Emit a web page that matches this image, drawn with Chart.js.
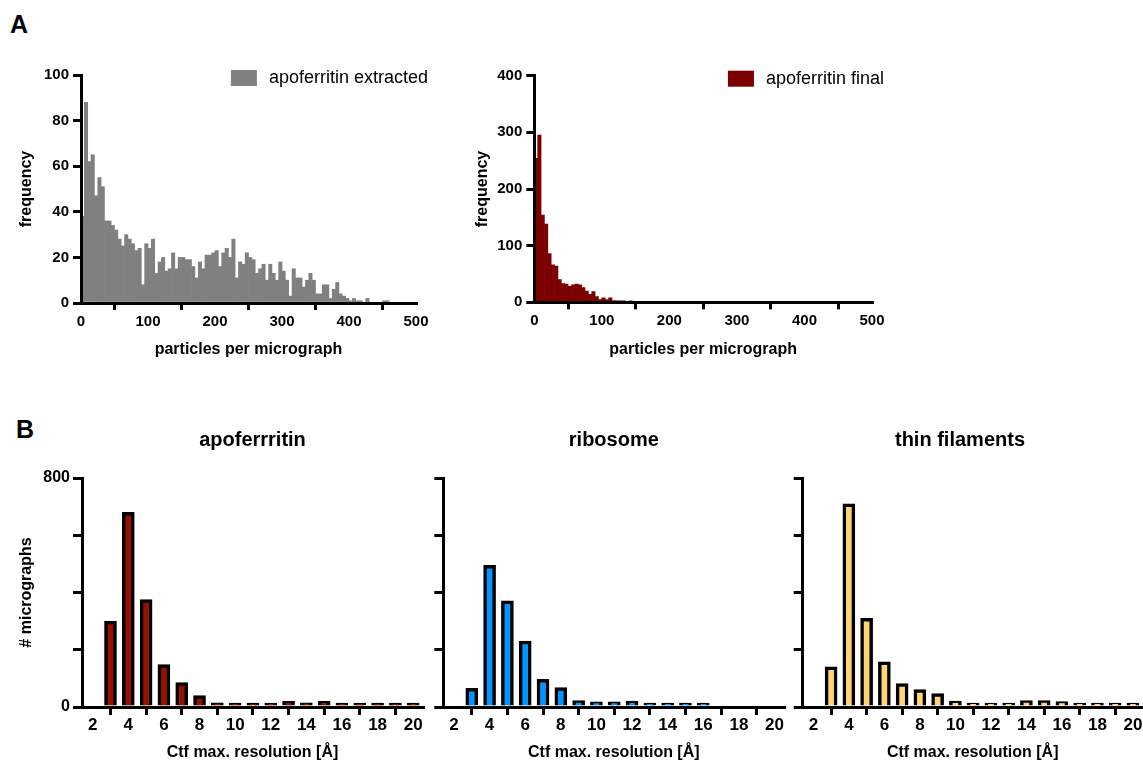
<!DOCTYPE html>
<html>
<head>
<meta charset="utf-8">
<script src="https://cdn.jsdelivr.net/npm/chart.js@4/dist/chart.umd.min.js"></script>
<style>
  html, body { margin: 0; padding: 0; background: #fff; width: 1143px; height: 762px; overflow: hidden; }
  body { position: relative; font-family: "Liberation Sans", Arial, Helvetica, sans-serif; }
  canvas { position: absolute; }
  .panel { position: absolute; font-weight: bold; font-size: 25px; line-height: 1; }
</style>
</head>
<body>
<div class="panel" style="left:10px; top:12px">A</div>
<div class="panel" style="left:16px; top:417px">B</div>

<canvas id="extracted" width="460" height="340" style="left:0; top:40px"></canvas>
<canvas id="final" width="460" height="340" style="left:460px; top:40px"></canvas>
<canvas id="apo" width="505" height="347" style="left:0; top:415px"></canvas>
<canvas id="ribo" width="500" height="347" style="left:360px; top:415px"></canvas>
<canvas id="thin" width="480" height="347" style="left:720px; top:415px"></canvas>

<script>
const FONT = '"Liberation Sans", Arial, Helvetica, sans-serif';

// A: particles per micrograph, 5-particle bins from 0 to 500
const binWidth = 5;
const extractedFreq = [
  38, 88, 62, 65, 47, 55, 51, 36, 36, 34,
  32, 28, 25, 30, 28, 26, 23, 24, 8, 26,
  24, 28, 13, 18, 20, 14, 15, 22, 15, 20,
  20, 19, 19, 16, 11, 18, 15, 21, 21, 22,
  23, 16, 22, 24, 20, 28, 11, 18, 17, 22,
  20, 19, 13, 15, 17, 10, 17, 13, 10, 18,
  14, 10, 3, 15, 11, 11, 7, 10, 13, 10,
  4, 4, 8, 8, 2, 6, 9, 4, 3, 2,
  1, 2, 1, 1, 0, 2, 0, 0, 0, 0,
  1, 1, 0, 0, 0, 0, 0, 0, 0, 0
];
const finalFreq = [
  254, 295, 154, 138, 86, 66, 64, 40, 33, 32,
  28, 31, 32, 31, 26, 20, 14, 19, 10, 5,
  8, 5, 8, 3, 1, 1, 1, 0, 2, 0,
  0, 0, 0, 0, 0, 0, 0, 0, 0, 0,
  0, 0, 0, 0, 0, 0, 0, 0, 0, 0,
  0, 0, 0, 0, 0, 0, 0, 0, 0, 0,
  0, 0, 0, 0, 0, 0, 0, 0, 0, 0,
  0, 0, 0, 0, 0, 0, 0, 0, 0, 0,
  0, 0, 0, 0, 0, 0, 0, 0, 0, 0,
  0, 0, 0, 0, 0, 0, 0, 0, 0, 0
];
const particleTicks = [0, 100, 200, 300, 400, 500];
const extractedTicks = [0, 20, 40, 60, 80, 100];
const finalTicks = [0, 100, 200, 300, 400];

// B: micrographs per CTF max. resolution (Å)
const resolution = [2, 3, 4, 5, 6, 7, 8, 9, 10, 11, 12, 13, 14, 15, 16, 17, 18, 19, 20];
const apoCounts  = [0, 300, 680, 375, 148, 85, 40, 15, 8, 4, 12, 20, 15, 20, 8, 8, 2, 2, 2];
const riboCounts = [0, 65, 495, 371, 230, 97, 68, 22, 18, 18, 21, 5, 9, 4, 1, 0, 0, 0, 0];
const thinCounts = [0, 140, 710, 310, 158, 82, 61, 47, 21, 8, 2, 6, 22, 22, 19, 4, 3, 1, 9];
const resolutionTicks = [2, 4, 6, 8, 10, 12, 14, 16, 18, 20];
const countTicks = [0, 200, 400, 600, 800];
const countTickLabels = ['0', '', '', '', '800'];

Chart.defaults.font.family = FONT;
Chart.defaults.color = '#000';

// legend drawn just above the top right corner of the plot
const insetLegend = {
  id: 'insetLegend',
  afterDraw(chart, args, opts) {
    if (!opts.text) return;
    const { ctx, chartArea } = chart;
    ctx.save();
    ctx.font = '18px ' + FONT;
    const w = ctx.measureText(opts.text).width;
    const right = chartArea.right + 12;
    const cy = chartArea.top + 3;
    ctx.fillStyle = '#000';
    ctx.textBaseline = 'middle';
    ctx.fillText(opts.text, right - w, cy);
    ctx.fillStyle = opts.color;
    ctx.fillRect(right - w - 12 - 26, cy - 8, 26, 16);
    ctx.restore();
  }
};

const axisBorder = { display: true, color: '#000', width: 3, z: 1 };
function tickMarks(len) {
  return { display: true, drawOnChartArea: false, drawTicks: true, tickLength: len, lineWidth: 3, color: '#000' };
}
function fixedTicks(values) {
  return scale => { scale.ticks = values.map(v => ({ value: v })); };
}

function histogram(id, freq, color, yTicks, yWidth, yTitlePad, pad, legendText) {
  new Chart(document.getElementById(id), {
    type: 'bar',
    data: {
      datasets: [{
        data: freq.map((v, i) => ({ x: i * binWidth + binWidth / 2, y: v })),
        backgroundColor: color,
        borderWidth: 0,
        barPercentage: 1,
        categoryPercentage: 1
      }]
    },
    options: {
      responsive: false,
      animation: false,
      layout: { padding: pad },
      plugins: {
        legend: { display: false },
        tooltip: { enabled: false },
        insetLegend: { text: legendText, color: color }
      },
      scales: {
        x: {
          type: 'linear', offset: false, min: 0, max: 500,
          border: axisBorder,
          grid: tickMarks(7),
          afterBuildTicks: fixedTicks(particleTicks),
          afterFit: s => { s.height = 60; },
          ticks: { font: { size: 15, weight: 'bold' }, padding: 3, maxRotation: 0 },
          title: { display: true, text: 'particles per micrograph', font: { size: 16, weight: 'bold' }, padding: { top: 0, bottom: 3.4 } }
        },
        y: {
          min: 0, max: yTicks[yTicks.length - 1],
          border: axisBorder,
          grid: tickMarks(8),
          afterBuildTicks: fixedTicks(yTicks),
          afterFit: s => { s.width = yWidth; },
          ticks: { font: { size: 15, weight: 'bold' }, padding: 4 },
          title: { display: true, text: 'frequency', font: { size: 16, weight: 'bold' }, padding: { top: yTitlePad, bottom: 0 } }
        }
      }
    },
    plugins: [insetLegend]
  });
}

function resolutionChart(id, title, counts, color, yWidth, pad, showY, titleFull) {
  new Chart(document.getElementById(id), {
    type: 'bar',
    data: {
      datasets: [{
        data: counts.map((v, i) => ({ x: resolution[i], y: v || null })),
        backgroundColor: color,
        borderColor: '#000',
        borderWidth: 3.5,
        borderSkipped: 'start',
        barThickness: 12,
        minBarLength: 4
      }]
    },
    options: {
      responsive: false,
      animation: false,
      layout: { padding: pad },
      plugins: {
        legend: { display: false },
        tooltip: { enabled: false },
        title: { display: true, fullSize: titleFull, text: title, font: { size: 20, weight: 'bold' }, padding: { top: 13, bottom: 26 } }
      },
      scales: {
        x: {
          type: 'linear', offset: false, min: 1.4, max: 20.55,
          border: axisBorder,
          grid: tickMarks(8),
          afterBuildTicks: fixedTicks(resolutionTicks),
          afterFit: s => { s.height = 55; },
          ticks: { font: { size: 17, weight: 'bold' }, padding: 0, maxRotation: 0, autoSkip: false },
          title: { display: true, text: 'Ctf max. resolution [Å]', font: { size: 16, weight: 'bold' }, padding: { top: 0, bottom: 0 } }
        },
        y: {
          min: 0, max: 800,
          border: axisBorder,
          grid: tickMarks(9),
          afterBuildTicks: fixedTicks(countTicks),
          afterFit: s => { s.width = yWidth; },
          ticks: { font: { size: 16, weight: 'bold' }, padding: 3, callback: (v, i) => showY ? countTickLabels[i] : '' },
          title: { display: showY, text: '# micrographs', font: { size: 16, weight: 'bold' }, padding: { top: 17, bottom: 0 } }
        }
      }
    }
  });
}

histogram('extracted', extractedFreq, '#808080', extractedTicks, 81, 17,
  { left: 0, right: 44, top: 35, bottom: 17 }, 'apoferritin extracted');
histogram('final', finalFreq, '#7d0000', finalTicks, 74.3, 13.4,
  { left: 0, right: 48, top: 35.7, bottom: 17.7 }, 'apoferritin final');

resolutionChart('apo', 'apoferrritin', apoCounts, '#941100', 82, { left: 0, right: 82, top: 0, bottom: 0 }, true, false);
resolutionChart('ribo', 'ribosome', riboCounts, '#0096ff', 83.3, { left: 0, right: 75.7, top: 0, bottom: 0 }, false, false);
resolutionChart('thin', 'thin filaments', thinCounts, '#ffd479', 25.4, { left: 57.3, right: 57.3, top: 0, bottom: 0 }, false, true);
</script>
</body>
</html>
